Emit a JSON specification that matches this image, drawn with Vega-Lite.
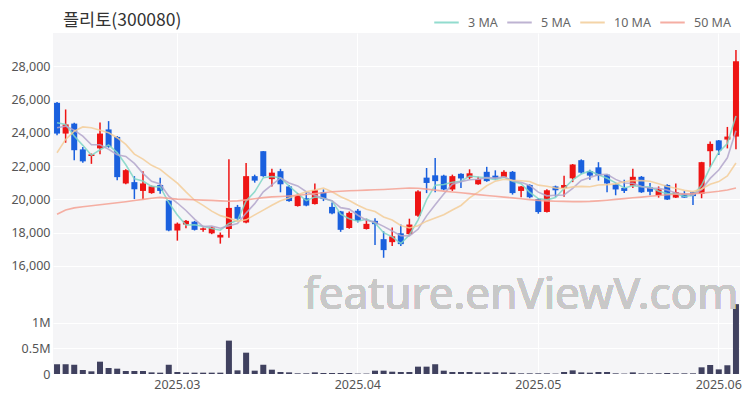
{
  "$schema": "https://vega.github.io/schema/vega-lite/v6.json",
  "background": "white",
  "padding": {"left": 10, "right": 10, "top": 9, "bottom": 2},
  "bounds": "flush",
  "title": {"text": "플리토(300080)", "anchor": "start", "frame": "group", "fontSize": 17.5, "fontWeight": "normal", "color": "#333333", "font": "Noto Sans CJK KR", "offset": -20, "dx": 10},
  "spacing": 0,
  "datasets": {
    "d": [
      {"date":"2025-02-11","open":25800,"high":25850,"low":23850,"close":23950,"volume":190000,"ma3":24600,"ma5":24300,"ma10":22800,"ma50":19100},
      {"date":"2025-02-12","open":23950,"high":25400,"low":23400,"close":24500,"volume":190000,"ma3":24500,"ma5":24400,"ma10":23600,"ma50":19350},
      {"date":"2025-02-13","open":24550,"high":24600,"low":22350,"close":22950,"volume":180000,"ma3":23800,"ma5":24150,"ma10":24100,"ma50":19480},
      {"date":"2025-02-14","open":23000,"high":23150,"low":22200,"close":22280,"volume":78000,"ma3":23243,"ma5":23800,"ma10":24350,"ma50":19550},
      {"date":"2025-02-17","open":22600,"high":22750,"low":22130,"close":22700,"volume":52000,"ma3":22643,"ma5":23276,"ma10":24300,"ma50":19610},
      {"date":"2025-02-18","open":23060,"high":24620,"low":22710,"close":23950,"volume":240000,"ma3":22977,"ma5":23276,"ma10":24150,"ma50":19670},
      {"date":"2025-02-19","open":24200,"high":24700,"low":23100,"close":23150,"volume":117000,"ma3":23267,"ma5":23006,"ma10":24000,"ma50":19730},
      {"date":"2025-02-20","open":23750,"high":23800,"low":21150,"close":21330,"volume":104000,"ma3":22810,"ma5":22682,"ma10":23700,"ma50":19790},
      {"date":"2025-02-21","open":20950,"high":21800,"low":20900,"close":21750,"volume":58000,"ma3":22077,"ma5":22576,"ma10":23300,"ma50":19850},
      {"date":"2025-02-24","open":21030,"high":21390,"low":20010,"close":20600,"volume":58000,"ma3":21227,"ma5":22156,"ma10":22716,"ma50":19920},
      {"date":"2025-02-25","open":20500,"high":21690,"low":20000,"close":20950,"volume":58000,"ma3":21100,"ma5":21556,"ma10":22416,"ma50":19990},
      {"date":"2025-02-26","open":20370,"high":20820,"low":20330,"close":20770,"volume":32000,"ma3":20773,"ma5":21080,"ma10":22043,"ma50":20060},
      {"date":"2025-02-27","open":20860,"high":21300,"low":20330,"close":20500,"volume":26000,"ma3":20740,"ma5":20914,"ma10":21798,"ma50":20110},
      {"date":"2025-02-28","open":19920,"high":19950,"low":18080,"close":18120,"volume":180000,"ma3":19797,"ma5":20188,"ma10":21382,"ma50":20050},
      {"date":"2025-03-04","open":18120,"high":18600,"low":17510,"close":18530,"volume":39000,"ma3":19050,"ma5":19774,"ma10":20965,"ma50":20010},
      {"date":"2025-03-05","open":18480,"high":18750,"low":18250,"close":18700,"volume":26000,"ma3":18450,"ma5":19324,"ma10":20440,"ma50":19990},
      {"date":"2025-03-06","open":18650,"high":18700,"low":18120,"close":18160,"volume":26000,"ma3":18463,"ma5":18802,"ma10":19941,"ma50":19970},
      {"date":"2025-03-07","open":18160,"high":18300,"low":18050,"close":18250,"volume":26000,"ma3":18370,"ma5":18352,"ma10":19633,"ma50":19950},
      {"date":"2025-03-10","open":17950,"high":18350,"low":17900,"close":18300,"volume":26000,"ma3":18237,"ma5":18388,"ma10":19288,"ma50":19930},
      {"date":"2025-03-11","open":17700,"high":18000,"low":17330,"close":17860,"volume":26000,"ma3":18137,"ma5":18254,"ma10":19014,"ma50":19900},
      {"date":"2025-03-12","open":18210,"high":22400,"low":17680,"close":19480,"volume":650000,"ma3":18547,"ma5":18410,"ma10":18867,"ma50":19880},
      {"date":"2025-03-13","open":19540,"high":19660,"low":18740,"close":18830,"volume":71000,"ma3":18723,"ma5":18544,"ma10":18673,"ma50":19900},
      {"date":"2025-03-14","open":18600,"high":22180,"low":18560,"close":21390,"volume":415000,"ma3":19900,"ma5":19172,"ma10":18762,"ma50":19960},
      {"date":"2025-03-17","open":21390,"high":21480,"low":21000,"close":21120,"volume":65000,"ma3":20447,"ma5":19736,"ma10":19062,"ma50":20030},
      {"date":"2025-03-18","open":22890,"high":22900,"low":21350,"close":21390,"volume":180000,"ma3":21300,"ma5":20442,"ma10":19348,"ma50":20100},
      {"date":"2025-03-19","open":21210,"high":21830,"low":20770,"close":21600,"volume":84000,"ma3":21370,"ma5":20866,"ma10":19638,"ma50":20140},
      {"date":"2025-03-20","open":21690,"high":21830,"low":20420,"close":20900,"volume":39000,"ma3":21297,"ma5":21280,"ma10":19912,"ma50":20170},
      {"date":"2025-03-21","open":20770,"high":20860,"low":19850,"close":19890,"volume":32000,"ma3":20797,"ma5":20980,"ma10":20076,"ma50":20200},
      {"date":"2025-03-24","open":19590,"high":20370,"low":19560,"close":20240,"volume":13000,"ma3":20343,"ma5":20804,"ma10":20270,"ma50":20240},
      {"date":"2025-03-25","open":20060,"high":20420,"low":19580,"close":19620,"volume":13000,"ma3":19917,"ma5":20450,"ma10":20446,"ma50":20290},
      {"date":"2025-03-26","open":19710,"high":20950,"low":19680,"close":20540,"volume":32000,"ma3":20133,"ma5":20238,"ma10":20552,"ma50":20340},
      {"date":"2025-03-27","open":20420,"high":20590,"low":19890,"close":20010,"volume":20000,"ma3":20057,"ma5":20060,"ma10":20670,"ma50":20390},
      {"date":"2025-03-28","open":19540,"high":19800,"low":19100,"close":19150,"volume":20000,"ma3":19900,"ma5":19912,"ma10":20446,"ma50":20450},
      {"date":"2025-03-31","open":19270,"high":19300,"low":18040,"close":18160,"volume":20000,"ma3":19107,"ma5":19496,"ma10":20150,"ma50":20480},
      {"date":"2025-04-01","open":18270,"high":19270,"low":18220,"close":19180,"volume":20000,"ma3":18830,"ma5":19408,"ma10":19929,"ma50":20510},
      {"date":"2025-04-02","open":19310,"high":19410,"low":18600,"close":18700,"volume":8000,"ma3":18680,"ma5":19040,"ma10":19639,"ma50":20530},
      {"date":"2025-04-03","open":18210,"high":18830,"low":18180,"close":18520,"volume":8000,"ma3":18800,"ma5":18742,"ma10":19401,"ma50":20550},
      {"date":"2025-04-04","open":18700,"high":18850,"low":17250,"close":18500,"volume":65000,"ma3":18573,"ma5":18612,"ma10":19262,"ma50":20570},
      {"date":"2025-04-07","open":17600,"high":18070,"low":16480,"close":16940,"volume":65000,"ma3":17987,"ma5":18368,"ma10":18932,"ma50":20590},
      {"date":"2025-04-08","open":17420,"high":18300,"low":17190,"close":17770,"volume":45000,"ma3":17737,"ma5":18086,"ma10":18747,"ma50":20620},
      {"date":"2025-04-09","open":17950,"high":18480,"low":17190,"close":17300,"volume":39000,"ma3":17337,"ma5":17806,"ma10":18423,"ma50":20650},
      {"date":"2025-04-10","open":17900,"high":18830,"low":17860,"close":18480,"volume":39000,"ma3":17850,"ma5":17798,"ma10":18270,"ma50":20680},
      {"date":"2025-04-11","open":19010,"high":20540,"low":18950,"close":20470,"volume":143000,"ma3":18750,"ma5":18192,"ma10":18402,"ma50":20660},
      {"date":"2025-04-14","open":21300,"high":21880,"low":20370,"close":20980,"volume":143000,"ma3":19977,"ma5":19000,"ma10":18684,"ma50":20610},
      {"date":"2025-04-15","open":21440,"high":22480,"low":20420,"close":21090,"volume":190000,"ma3":20847,"ma5":19664,"ma10":18875,"ma50":20550},
      {"date":"2025-04-16","open":21420,"high":21480,"low":20540,"close":20590,"volume":65000,"ma3":20887,"ma5":20322,"ma10":19064,"ma50":20490},
      {"date":"2025-04-17","open":20590,"high":21480,"low":20500,"close":21390,"volume":39000,"ma3":21023,"ma5":20904,"ma10":19351,"ma50":20440},
      {"date":"2025-04-18","open":21530,"high":21560,"low":20680,"close":21250,"volume":39000,"ma3":21077,"ma5":21060,"ma10":19626,"ma50":20390},
      {"date":"2025-04-21","open":21300,"high":21800,"low":21210,"close":21560,"volume":39000,"ma3":21400,"ma5":21176,"ma10":20088,"ma50":20340},
      {"date":"2025-04-22","open":20900,"high":21350,"low":20870,"close":21210,"volume":32000,"ma3":21340,"ma5":21200,"ma10":20432,"ma50":20280},
      {"date":"2025-04-23","open":21650,"high":21950,"low":21050,"close":21090,"volume":32000,"ma3":21287,"ma5":21300,"ma10":20811,"ma50":20230},
      {"date":"2025-04-24","open":21420,"high":21740,"low":21180,"close":21250,"volume":32000,"ma3":21183,"ma5":21272,"ma10":21088,"ma50":20180},
      {"date":"2025-04-25","open":21350,"high":21740,"low":21300,"close":21650,"volume":32000,"ma3":21330,"ma5":21352,"ma10":21206,"ma50":20130},
      {"date":"2025-04-28","open":21650,"high":21700,"low":20280,"close":20370,"volume":26000,"ma3":21090,"ma5":21114,"ma10":21145,"ma50":20080},
      {"date":"2025-04-29","open":20500,"high":20800,"low":20120,"close":20770,"volume":13000,"ma3":20930,"ma5":21026,"ma10":21113,"ma50":20030},
      {"date":"2025-04-30","open":20860,"high":20900,"low":20060,"close":20120,"volume":13000,"ma3":20420,"ma5":20832,"ma10":21066,"ma50":19980},
      {"date":"2025-05-02","open":20010,"high":20060,"low":19130,"close":19230,"volume":13000,"ma3":20040,"ma5":20428,"ma10":20850,"ma50":19930},
      {"date":"2025-05-07","open":19235,"high":20600,"low":19200,"close":20540,"volume":13000,"ma3":19963,"ma5":20206,"ma10":20779,"ma50":19900},
      {"date":"2025-05-08","open":20770,"high":20820,"low":20150,"close":20540,"volume":8000,"ma3":20103,"ma5":20240,"ma10":20677,"ma50":19880},
      {"date":"2025-05-09","open":20680,"high":21420,"low":20150,"close":20860,"volume":39000,"ma3":20647,"ma5":20258,"ma10":20642,"ma50":19870},
      {"date":"2025-05-12","open":21260,"high":22120,"low":21030,"close":22090,"volume":71000,"ma3":21163,"ma5":20652,"ma10":20742,"ma50":19860},
      {"date":"2025-05-13","open":22350,"high":22400,"low":21530,"close":21600,"volume":32000,"ma3":21517,"ma5":21126,"ma10":20777,"ma50":19860},
      {"date":"2025-05-14","open":21700,"high":21780,"low":21180,"close":21420,"volume":26000,"ma3":21703,"ma5":21302,"ma10":20754,"ma50":19870},
      {"date":"2025-05-15","open":21920,"high":22230,"low":21120,"close":21420,"volume":39000,"ma3":21480,"ma5":21478,"ma10":20859,"ma50":19900},
      {"date":"2025-05-16","open":21480,"high":21500,"low":20420,"close":20950,"volume":39000,"ma3":21263,"ma5":21496,"ma10":20877,"ma50":19940},
      {"date":"2025-05-19","open":20900,"high":20950,"low":20240,"close":20590,"volume":13000,"ma3":20987,"ma5":21196,"ma10":20924,"ma50":19990},
      {"date":"2025-05-20","open":20680,"high":21180,"low":20370,"close":20500,"volume":8000,"ma3":20680,"ma5":20976,"ma10":21051,"ma50":20040},
      {"date":"2025-05-21","open":20820,"high":21830,"low":20680,"close":21350,"volume":32000,"ma3":20813,"ma5":20962,"ma10":21132,"ma50":20090},
      {"date":"2025-05-22","open":21350,"high":21400,"low":20380,"close":20420,"volume":13000,"ma3":20757,"ma5":20762,"ma10":21120,"ma50":20130},
      {"date":"2025-05-23","open":20720,"high":20980,"low":20240,"close":20450,"volume":13000,"ma3":20740,"ma5":20662,"ma10":21079,"ma50":20180},
      {"date":"2025-05-26","open":20240,"high":20770,"low":20100,"close":20590,"volume":13000,"ma3":20487,"ma5":20662,"ma10":20929,"ma50":20230},
      {"date":"2025-05-27","open":20860,"high":20900,"low":19950,"close":19980,"volume":20000,"ma3":20340,"ma5":20558,"ma10":20767,"ma50":20270},
      {"date":"2025-05-28","open":20100,"high":20950,"low":20070,"close":20420,"volume":13000,"ma3":20330,"ma5":20372,"ma10":20667,"ma50":20300},
      {"date":"2025-05-29","open":20330,"high":20500,"low":20080,"close":20100,"volume":13000,"ma3":20167,"ma5":20308,"ma10":20535,"ma50":20320},
      {"date":"2025-05-30","open":20420,"high":20450,"low":19660,"close":20190,"volume":13000,"ma3":20237,"ma5":20256,"ma10":20459,"ma50":20340},
      {"date":"2025-06-02","open":20330,"high":22250,"low":20060,"close":22230,"volume":130000,"ma3":20840,"ma5":20584,"ma10":20623,"ma50":20370},
      {"date":"2025-06-04","open":22890,"high":23470,"low":21920,"close":23330,"volume":175000,"ma3":21917,"ma5":21254,"ma10":20903,"ma50":20420},
      {"date":"2025-06-05","open":23540,"high":23560,"low":22660,"close":22940,"volume":90000,"ma3":22833,"ma5":21758,"ma10":21062,"ma50":20480},
      {"date":"2025-06-09","open":23590,"high":24350,"low":23060,"close":23770,"volume":170000,"ma3":23347,"ma5":22492,"ma10":21397,"ma50":20560},
      {"date":"2025-06-10","open":23770,"high":28970,"low":23010,"close":28300,"volume":1360000,"ma3":25003,"ma5":24114,"ma10":22182,"ma50":20680}
    ]
  },
  "vconcat": [
    {
      "width": 687,
      "height": 266,
      "data": {"name": "d"},
      "encoding": {
        "x": {"field": "date", "type": "ordinal", "title": null,
              "scale": {"paddingInner": 0.3, "paddingOuter": 0.12},
              "axis": {"labels": false, "grid": true, "labelPadding": 0, "values": ["2025-03-04","2025-04-02","2025-05-02","2025-06-05"]}}
      },
      "layer": [
        {
          "mark": {"type": "rule", "strokeWidth": 1.5},
          "encoding": {
            "y": {"field": "low", "type": "quantitative", "title": null,
                  "scale": {"domain": [15560, 29640]},
                  "axis": {"values": [16000,18000,20000,22000,24000,26000,28000], "labelExpr": "format(datum.value, ',.0f')", "grid": true}},
            "y2": {"field": "high"},
            "color": {"condition": {"test": "datum.close >= datum.open", "value": "#ee1414"}, "value": "#1a60de"}
          }
        },
        {
          "mark": {"type": "bar"},
          "encoding": {
            "y": {"field": "open", "type": "quantitative", "title": null},
            "y2": {"field": "close"},
            "color": {"condition": {"test": "datum.close >= datum.open", "value": "#ee1414"}, "value": "#1a60de"}
          }
        },
        {
          "transform": [{"fold": ["ma3", "ma5", "ma10", "ma50"], "as": ["ma", "mv"]}],
          "mark": {"type": "line", "strokeWidth": 1.6, "opacity": 0.85},
          "encoding": {
            "y": {"field": "mv", "type": "quantitative", "title": null},
            "color": {"field": "ma", "type": "nominal",
                      "scale": {"domain": ["ma3", "ma5", "ma10", "ma50"], "range": ["#7fd6c6", "#b3a6cb", "#f3cd98", "#f4a193"]},
                      "legend": {"orient": "none", "legendX": 380, "legendY": -24, "direction": "horizontal", "title": null,
                                 "symbolType": "stroke", "symbolStrokeWidth": 2, "symbolSize": 600, "gridAlign": "none",
                                 "labelFontSize": 12.5, "labelColor": "#666666", "labelFont": "Noto Sans", "columnPadding": 5, "labelOffset": 8,
                                 "labelExpr": "datum.label == 'ma3' ? '3 MA' : datum.label == 'ma5' ? '5 MA' : datum.label == 'ma10' ? '10 MA' : '50 MA'"}}
          }
        }
      ]
    },
    {
      "width": 687,
      "height": 75,
      "data": {"name": "d"},
      "layer": [
        {
          "mark": {"type": "bar", "color": "#40415f"},
          "encoding": {
            "x": {"field": "date", "type": "ordinal", "title": null,
                  "scale": {"paddingInner": 0.3, "paddingOuter": 0.12},
                  "axis": {"grid": true, "labelAngle": 0, "labelPadding": 4, "values": ["2025-03-04","2025-04-02","2025-05-02","2025-06-05"],
                           "labelExpr": "replace(slice(datum.value, 0, 7), '-', '.')"}},
            "y": {"field": "volume", "type": "quantitative", "title": null,
                  "scale": {"domain": [0, 1460000]},
                  "axis": {"values": [0, 500000, 1000000], "grid": true, "labelOverlap": false,
                           "labelExpr": "datum.value == 0 ? '0' : datum.value == 500000 ? '0.5M' : '1M'"}}
          }
        },
        {
          "mark": {"type": "text", "text": "feature.enViewV.com", "font": "Noto Sans", "fontSize": 44, "color": "#c8c8c8", "opacity": 0.55, "baseline": "middle", "align": "center"},
          "encoding": {
            "x": {"datum": "2025-04-29", "type": "ordinal", "title": null,
                  "axis": {"grid": true, "labelAngle": 0, "labelPadding": 4, "values": ["2025-03-04","2025-04-02","2025-05-02","2025-06-05"],
                           "labelExpr": "replace(slice(datum.value, 0, 7), '-', '.')"}},
            "y": {"datum": 1520000, "type": "quantitative", "title": null,
                  "scale": {"domain": [0, 1460000]},
                  "axis": {"values": [0, 500000, 1000000], "grid": true, "labelOverlap": false,
                           "labelExpr": "datum.value == 0 ? '0' : datum.value == 500000 ? '0.5M' : '1M'"}}
          }
        }
      ]
    }
  ],
  "config": {
    "concat": {"spacing": 0},
    "view": {"fill": "#f5f5f7", "stroke": null},
    "axis": {"domain": false, "ticks": false, "gridColor": "#ffffff", "gridWidth": 1, "labelColor": "#555555", "labelFontSize": 12.5, "labelFont": "Noto Sans", "labelPadding": 3}
  }
}
